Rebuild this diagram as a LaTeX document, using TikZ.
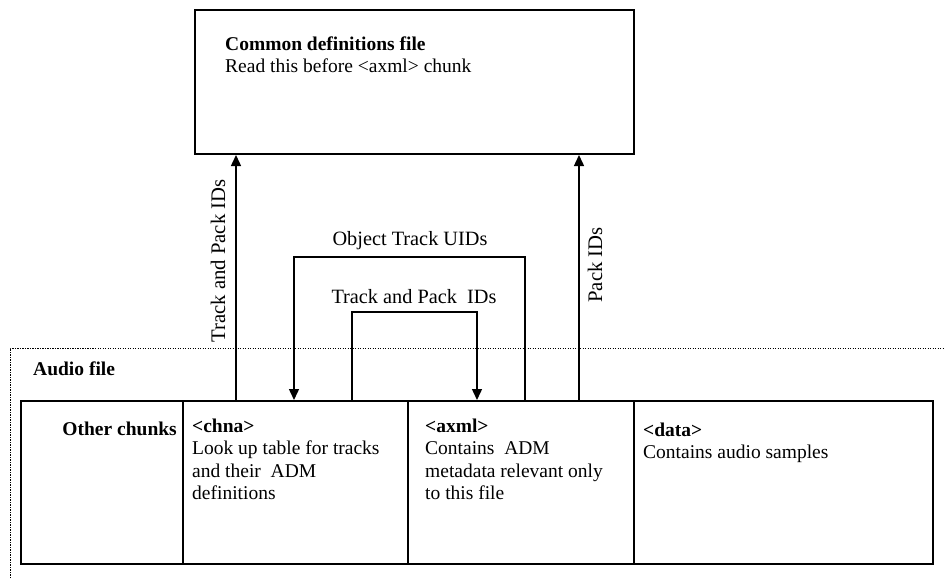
\documentclass[tikz,border=0pt]{standalone}
\usepackage{fontspec}
\setmainfont{Liberation Serif}
\usetikzlibrary{arrows.meta,calc}
\newcommand{\topstrut}{\rule{0pt}{15pt}}
\begin{document}
\begin{tikzpicture}[x=1pt,y=-1pt,
  every node/.style={font=\fontsize{19.5}{22.5}\selectfont, inner sep=0pt},
  boxstyle/.style={draw=black, line width=2pt, anchor=north west, minimum height=163pt},
  txt/.style={anchor=north west, align=left},
  lbl/.style={font=\fontsize{20.3}{24}\selectfont, anchor=base},
  vlbl/.style={font=\fontsize{20.7}{24}\selectfont, anchor=base, rotate=90},
  arr/.style={line width=1.4pt, -{Triangle[length=11pt,width=10pt]}},
  frame/.style={line width=0.9pt, dash pattern=on 1.3pt off 1.2pt}
]
\useasboundingbox (0,0) rectangle (944,578);

% dotted audio-file frame
\draw[frame] (10,578) |- (944,348);
\node[anchor=base west] (audiolbl) at (33,375) {\textbf{Audio file}};

% common definitions box
\node[draw=black, line width=2pt, anchor=north west, minimum width=439pt, minimum height=144pt] (common) at (194,9) {};
\node[txt] (commontxt) at (225,35) {\topstrut\textbf{Common definitions file}\\Read this before <axml> chunk};

% chunk cells
\node[boxstyle, minimum width=162pt] (other) at (20,400) {};
\node[boxstyle, minimum width=225pt] (chna) at (182,400) {};
\node[boxstyle, minimum width=226pt] (axml) at (407,400) {};
\node[boxstyle, minimum width=299pt] (data) at (633,400) {};

\node[anchor=base east] (othertxt) at (177,435) {\textbf{Other chunks}};
\node[txt] (chnatxt) at (192,417) {\topstrut\textbf{<chna>}\\Look up table for tracks\\and their~ ADM\\definitions};
\node[txt] (axmltxt) at (425,417) {\topstrut\textbf{<axml>}\\Contains~ ADM\\metadata relevant only\\to this file};
\node[txt] (datatxt) at (643,421) {\topstrut\textbf{<data>}\\Contains audio samples};

% connectors up to the common definitions file
\coordinate (a1) at ($(chna.north west)+(54,0)$);
\coordinate (a2) at ($(axml.north west)+(172,0)$);
\draw[arr] (a1) -- (common.south -| a1);
\draw[arr] (a2) -- (common.south -| a2);
\node[vlbl] (lbl1) at (225,261) {Track and Pack IDs};
\node[vlbl] (lbl2) at (602,265) {Pack IDs};

% Object Track UIDs: axml -> chna
\draw[arr] ($(axml.north west)+(118,0)$) |- ($(chna.north west)+(112,-143)$) -- ($(chna.north west)+(112,0)$);
\node[lbl] (lbl3) at (410,245) {Object Track UIDs};

% Track and Pack IDs: chna -> axml
\draw[arr] ($(chna.north west)+(170,0)$) |- ($(axml.north west)+(70,-88)$) -- ($(axml.north west)+(70,0)$);
\node[lbl] (lbl4) at (414,303) {Track and Pack~ IDs};
\end{tikzpicture}
\end{document}
